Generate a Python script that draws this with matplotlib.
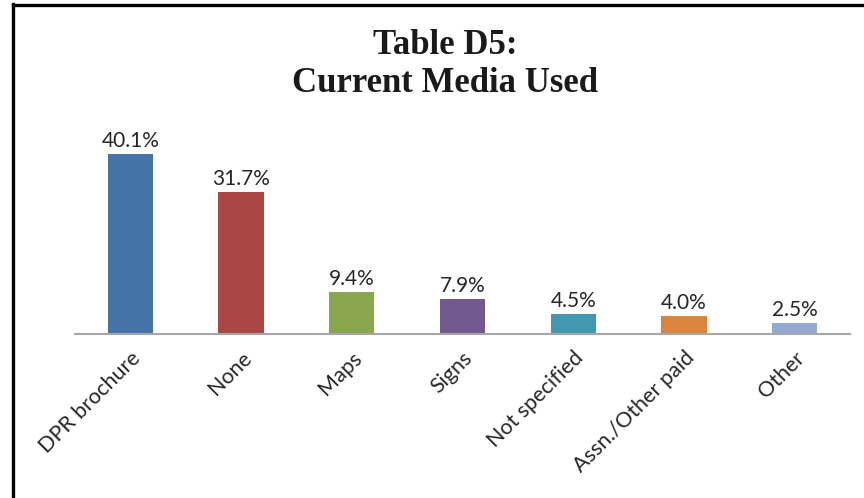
import matplotlib.pyplot as plt
from matplotlib.lines import Line2D

categories = ["DPR brochure", "None", "Maps", "Signs", "Not specified",
              "Assn./Other paid", "Other"]
values = [40.1, 31.7, 9.4, 7.9, 4.5, 4.0, 2.5]
colors = ["#4572A7", "#AA4643", "#89A54E", "#71588F", "#4198AF",
          "#DB843D", "#93A9CF"]

W, H = 864, 498
fig = plt.figure(figsize=(W / 100, H / 100), dpi=100)
fig.patch.set_facecolor("white")

# plot area in pixel terms: x 75..850, baseline at y=334
ax = fig.add_axes([75 / W, (H - 334) / H, 775 / W, 200 / H])
ax.set_ylim(0, 200 / 4.49)
ax.set_xlim(-0.5, len(categories) - 0.5)

x = range(len(categories))
ax.bar(x, values, width=0.41, color=colors, zorder=2)

for xi, v in zip(x, values):
    ax.annotate(f"{v:.1f}%", (xi, v), xytext=(0, 2), textcoords="offset points",
                ha="center", va="bottom", fontsize=15, family="Lato", color="#262626")

for s in ["top", "left", "right"]:
    ax.spines[s].set_visible(False)
ax.spines["bottom"].set_color("#a6a6a6")
ax.spines["bottom"].set_linewidth(1.5)
ax.set_yticks([])
ax.set_xticks(list(x))
ax.set_xticklabels(categories, rotation=45, ha="right", rotation_mode="anchor",
                   fontsize=15.5, family="Lato", color="#262626")
ax.tick_params(axis="x", length=0, pad=10)

# title
fig.text(445 / W, 1 - 45 / H, "Table D5:", ha="center", va="center",
         fontsize=25, fontweight="bold", family="Liberation Serif", color="#1a1a1a")
fig.text(445 / W, 1 - 83 / H, "Current Media Used", ha="center", va="center",
         fontsize=25, fontweight="bold", family="Liberation Serif", color="#1a1a1a")

# partial frame around the chart (top and left edges)
fig.add_artist(Line2D([12.5 / W, 1.0], [1 - 5.5 / H, 1 - 5.5 / H],
                      color="black", linewidth=2.4, transform=fig.transFigure))
fig.add_artist(Line2D([12.5 / W, 12.5 / W], [0, 1 - 4.5 / H],
                      color="black", linewidth=2.4, transform=fig.transFigure))

fig.savefig("out.png", dpi=100)
